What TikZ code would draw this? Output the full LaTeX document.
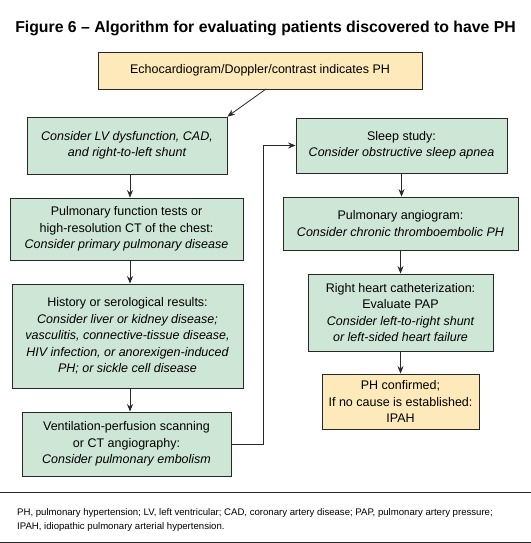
\documentclass[tikz,border=0pt]{standalone}
\usepackage{fontspec}
\setmainfont{Liberation Sans}
\usetikzlibrary{arrows.meta}
\definecolor{boxgreen}{RGB}{206,230,214}
\definecolor{boxyellow}{RGB}{253,233,185}
\definecolor{edge}{RGB}{40,40,40}
\tikzset{
  box/.style={draw=edge, line width=0.8bp, align=center, inner sep=0pt,
    font=\fontsize{12.5bp}{16.5bp}\selectfont},
  gbox/.style={box, fill=boxgreen},
  ybox/.style={box, fill=boxyellow},
  arr/.style={draw=edge, line width=0.8bp, -{Stealth[length=7.5bp,width=6bp]}},
  rule/.style={draw=edge, line width=0.8bp},
  foot/.style={font=\fontsize{9.6bp}{11bp}\selectfont, anchor=base west, inner sep=0pt}
}
\begin{document}
\begin{tikzpicture}[x=1bp, y=-1bp]
\useasboundingbox (0,0) rectangle (531,543);
\node[font=\bfseries\fontsize{15.8bp}{18bp}\selectfont, inner sep=0pt] (title) at (265.5,28)
  {Figure 6 – Algorithm for evaluating patients discovered to have PH};
\node[ybox, minimum width=324bp, minimum height=37bp] (top) at (260,70.5)
  {Echocardiogram/Doppler/contrast indicates PH};
\node[gbox, minimum width=200bp, minimum height=57bp] (L1) at (127,145.5)
  {\itshape Consider LV dysfunction, CAD,\\ \itshape and right-to-left shunt};
\node[gbox, minimum width=233bp, minimum height=62bp] (L2) at (126.5,229)
  {Pulmonary function tests or\\ high-resolution CT of the chest:\\ \itshape Consider primary pulmonary disease};
\node[gbox, minimum width=231bp, minimum height=104bp] (L3) at (127.5,336)
  {History or serological results:\\ \itshape Consider liver or kidney disease;\\ \itshape vasculitis, connective-tissue disease,\\ \itshape HIV infection, or anorexigen-induced\\ \itshape PH; or sickle cell disease};
\node[gbox, minimum width=209bp, minimum height=64bp] (L4) at (126.5,444)
  {Ventilation-perfusion scanning\\ or CT angiography:\\ \itshape Consider pulmonary embolism};
\node[gbox, minimum width=211bp, minimum height=55bp] (R1) at (401.5,145.5)
  {Sleep study:\\ \itshape Consider obstructive sleep apnea};
\node[gbox, minimum width=235bp, minimum height=53bp] (R2) at (400.5,223.5)
  {Pulmonary angiogram:\\ \itshape Consider chronic thromboembolic PH};
\node[gbox, minimum width=185bp, minimum height=77bp] (R3) at (400.5,312.5)
  {Right heart catheterization:\\ Evaluate PAP\\ \itshape Consider left-to-right shunt\\ \itshape or left-sided heart failure};
\node[ybox, minimum width=157bp, minimum height=55bp] (R4) at (400.5,401.5)
  {PH confirmed;\\ If no cause is established:\\ IPAH};
\coordinate (tstart) at (266,89);
\draw[arr] (tstart) -- (L1.north east);
\draw[arr] ([xshift=3bp]L1.south) -- ([xshift=3bp]L1.south |- L2.north);
\draw[arr] ([xshift=3.5bp]L2.south) -- ([xshift=3.5bp]L2.south |- L3.north);
\draw[arr] ([xshift=2.5bp]L3.south) -- ([xshift=2.5bp]L3.south |- L4.north);
\draw[arr] (L4.east) -- ++(32,0) |- (R1.west);
\draw[arr] (R1.south) -- (R1.south |- R2.north);
\draw[arr] (R2.south) -- (R2.south |- R3.north);
\draw[arr] (R3.south) -- (R3.south |- R4.north);
\coordinate (r1a) at (0,492); \coordinate (r1b) at (531,492);
\coordinate (r2a) at (0,542); \coordinate (r2b) at (531,542);
\draw[rule] (r1a) -- (r1b);
\draw[rule] (r2a) -- (r2b);
\node[foot] (f1) at (17,515) {PH, pulmonary hypertension; LV, left ventricular; CAD, coronary artery disease; PAP, pulmonary artery pressure;};
\node[foot] (f2) at (17,529) {IPAH, idiopathic pulmonary arterial hypertension.};
\end{tikzpicture}
\end{document}
